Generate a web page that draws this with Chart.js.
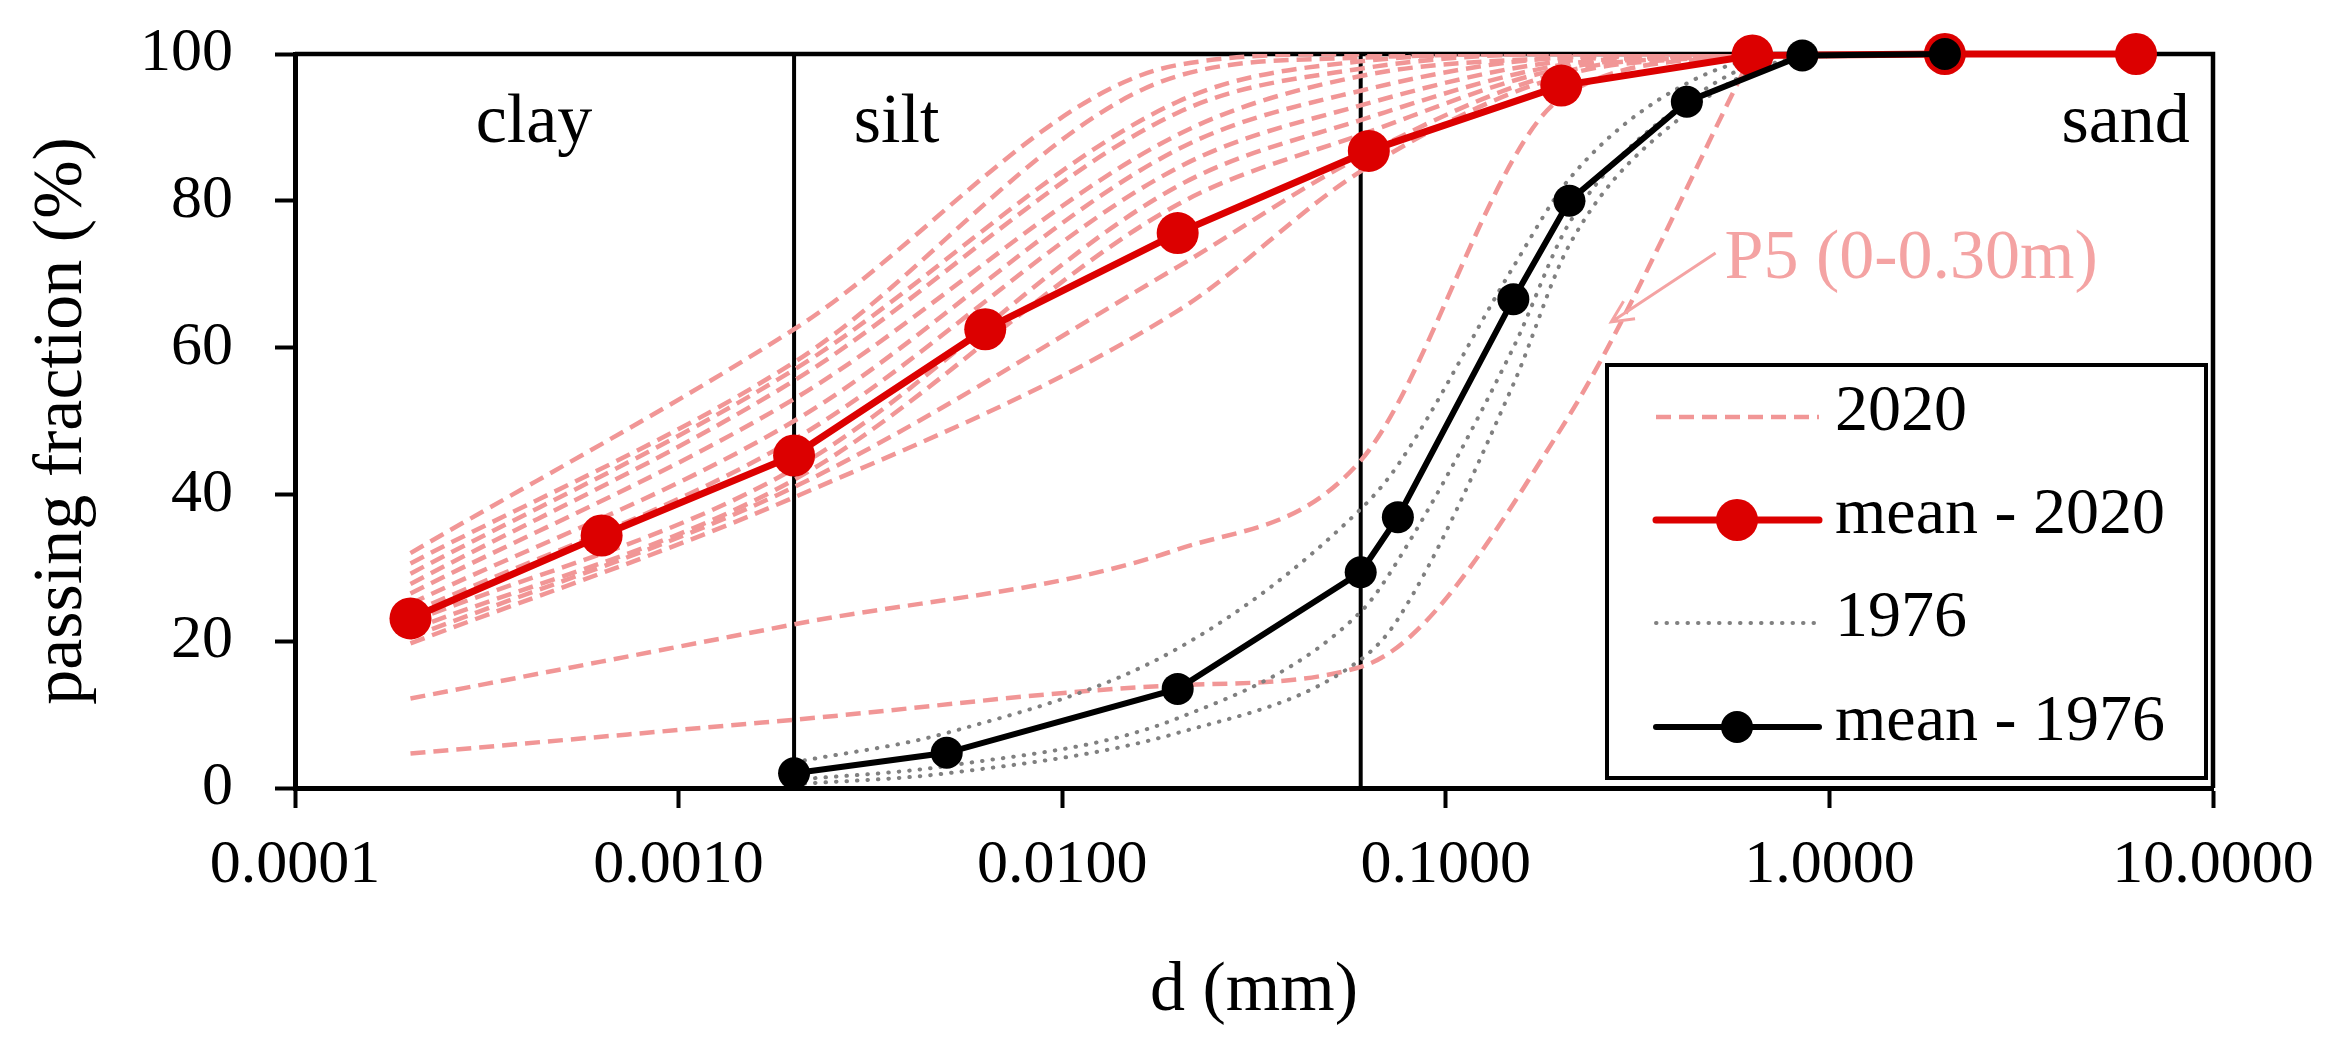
<!DOCTYPE html>
<html>
<head>
<meta charset="utf-8">
<script src="https://cdn.jsdelivr.net/npm/chart.js@4.4.1/dist/chart.umd.min.js"></script>
<style>
  html, body { margin: 0; padding: 0; background: #fff; }
  #wrap { width: 2335px; height: 1040px; }
</style>
</head>
<body>
<div id="wrap"><canvas id="psd" width="2335" height="1040"></canvas></div>
<script>
const SERIF = '"Liberation Serif", "Times New Roman", serif';

// grain size (mm) at which the 2020 samples were read
const sieve2020 = [0.0002, 0.002, 0.02, 0.06, 0.2, 0.63];
// passing fraction (%) of each 2020 sample, last one is P5 (0-0.30m)
const samples2020 = [
  [32.0, 62.5, 98.5, 100, 100, 100],
  [30.6, 58.0, 97.0, 99.5, 100, 100],
  [29.2, 57.0, 93.5, 99.0, 100, 100],
  [27.8, 55.5, 92.0, 98.0, 100, 100],
  [26.5, 53.0, 89.0, 97.0, 99.5, 100],
  [25.1, 50.0, 87.0, 95.0, 99.5, 100],
  [23.8, 47.5, 84.5, 93.0, 99.0, 100],
  [22.6, 43.5, 82.0, 91.0, 98.5, 100],
  [21.5, 42.0, 79.5, 89.0, 98.0, 100],
  [20.5, 41.0, 71.0, 86.0, 97.5, 100],
  [19.7, 39.6, 65.0, 84.0, 97.0, 100],
  [12.2, 22.3, 32.5, 44.6, 94.0, 100],
  [4.7, 9.3, 14.0, 16.5, 49.0, 100]
];
const mean2020X = [0.0002, 0.00063, 0.002, 0.0063, 0.02, 0.063, 0.2, 0.63, 2.0, 6.3];
const mean2020Y = [23.1, 34.4, 45.3, 62.5, 75.6, 86.8, 95.7, 99.8, 100, 100];

// 1976 survey
const sieve1976 = [0.002, 0.005, 0.02, 0.06, 0.075, 0.15, 0.21, 0.425, 0.85, 2.0];
const samples1976 = [
  [3.5, 7.5, 19.0, 38.0, 44.0, 71.0, 83.0, 96.0, 100, 100],
  [1.1, 3.0, 9.5, 24.0, 31.0, 60.0, 77.0, 93.5, 100, 100],
  [0.5, 2.0, 7.5, 17.5, 23.0, 55.0, 74.0, 92.0, 99.5, 100]
];
const mean1976Y = [2.0, 4.8, 13.5, 29.4, 36.9, 66.6, 80.0, 93.5, 99.8, 100];

const xTickValues = [0.0001, 0.001, 0.01, 0.1, 1, 10];
const xTickLabels = ['0.0001', '0.0010', '0.0100', '0.1000', '1.0000', '10.0000'];
const classLimits = [0.002, 0.06];
const legendLabels = ['2020', 'mean - 2020', '1976', 'mean - 1976'];

const PINK = '#F19696';
const RED = '#DC0000';
const GREY = '#808080';

const pts = (xs, ys) => xs.map((x, i) => ({ x: x, y: ys[i] }));

const datasets = [];
datasets.push({
  label: 'mean - 1976', data: pts(sieve1976, mean1976Y), order: 0,
  borderColor: '#000', backgroundColor: '#000', borderWidth: 6,
  pointRadius: 16, pointBorderWidth: 0, pointBackgroundColor: '#000',
  tension: 0, clip: false
});
datasets.push({
  label: 'mean - 2020', data: pts(mean2020X, mean2020Y), order: 1,
  borderColor: RED, backgroundColor: RED, borderWidth: 7,
  pointRadius: 21, pointBorderWidth: 0, pointBackgroundColor: RED,
  tension: 0, clip: false
});
samples1976.forEach(s => datasets.push({
  label: '1976', data: pts(sieve1976, s), order: 2,
  borderColor: GREY, borderWidth: 4, borderDash: [0.5, 10], borderCapStyle: 'round',
  pointRadius: 0, cubicInterpolationMode: 'monotone'
}));
samples2020.forEach(s => datasets.push({
  label: '2020', data: pts(sieve2020, s), order: 3,
  borderColor: PINK, borderWidth: 4.5, borderDash: [15, 8],
  pointRadius: 0, cubicInterpolationMode: 'monotone'
}));

const decor = {
  id: 'decor',
  beforeDatasetsDraw(chart) {
    const { ctx, chartArea: a, scales: { x } } = chart;
    ctx.save();
    ctx.strokeStyle = '#000';
    ctx.lineWidth = 4.5;
    ctx.beginPath();
    ctx.moveTo(a.left, a.top);
    ctx.lineTo(a.right, a.top);
    ctx.lineTo(a.right, a.bottom);
    ctx.stroke();
    ctx.lineWidth = 4;
    classLimits.forEach(d => {
      const px = x.getPixelForValue(d);
      ctx.beginPath();
      ctx.moveTo(px, a.top);
      ctx.lineTo(px, a.bottom);
      ctx.stroke();
    });
    ctx.restore();
  },
  afterDatasetsDraw(chart) {
    const { ctx, chartArea: a, scales: { x, y } } = chart;
    ctx.save();
    // soil classes
    ctx.fillStyle = '#000';
    ctx.font = '70px ' + SERIF;
    ctx.textBaseline = 'alphabetic';
    ctx.textAlign = 'center';
    ctx.fillText('clay', x.getPixelForValue(0.00042), y.getPixelForValue(88));
    ctx.fillText('silt', x.getPixelForValue(0.0037), y.getPixelForValue(88));
    ctx.textAlign = 'right';
    ctx.fillText('sand', x.getPixelForValue(8.7), y.getPixelForValue(88));

    // P5 note with arrow
    ctx.fillStyle = '#F4A3A3';
    ctx.strokeStyle = '#F4A3A3';
    ctx.textAlign = 'left';
    ctx.fillText('P5 (0-0.30m)', x.getPixelForValue(0.533), y.getPixelForValue(69.5));
    const x0 = x.getPixelForValue(0.505), y0 = y.getPixelForValue(72.9);
    const x1 = x.getPixelForValue(0.27), y1 = y.getPixelForValue(63.5);
    const ang = Math.atan2(y1 - y0, x1 - x0);
    ctx.lineWidth = 3;
    ctx.beginPath();
    ctx.moveTo(x0, y0);
    ctx.lineTo(x1, y1);
    ctx.moveTo(x1 - 24 * Math.cos(ang - 0.45), y1 - 24 * Math.sin(ang - 0.45));
    ctx.lineTo(x1, y1);
    ctx.lineTo(x1 - 24 * Math.cos(ang + 0.45), y1 - 24 * Math.sin(ang + 0.45));
    ctx.stroke();

    // legend box
    const bx = a.right - 606, by = a.bottom - 423, bw = 599, bh = 413;
    ctx.fillStyle = '#fff';
    ctx.fillRect(bx, by, bw, bh);
    ctx.strokeStyle = '#000';
    ctx.lineWidth = 4;
    ctx.strokeRect(bx, by, bw, bh);
    const rows = [52, 155, 258, 362];
    ctx.font = '66px ' + SERIF;
    ctx.textBaseline = 'middle';
    ctx.textAlign = 'left';
    legendLabels.forEach((lab, i) => {
      const ds = chart.data.datasets.find(d => d.label === lab);
      const ly = by + rows[i];
      ctx.save();
      ctx.strokeStyle = ds.borderColor;
      ctx.lineWidth = ds.borderWidth;
      ctx.lineCap = ds.borderCapStyle || (ds.pointRadius ? 'round' : 'butt');
      ctx.setLineDash(ds.borderDash || []);
      ctx.beginPath();
      ctx.moveTo(bx + 49, ly);
      ctx.lineTo(bx + 212, ly);
      ctx.stroke();
      if (ds.pointRadius) {
        ctx.fillStyle = ds.pointBackgroundColor;
        ctx.beginPath();
        ctx.arc(bx + 130, ly, ds.pointRadius, 0, Math.PI * 2);
        ctx.fill();
      }
      ctx.restore();
      ctx.fillStyle = '#000';
      ctx.fillText(lab, bx + 228, ly - 4);
    });
    ctx.restore();
  }
};

const tickFont = { family: SERIF, size: 62 };
const titleFont = { family: SERIF, size: 70, lineHeight: 1 };

new Chart(document.getElementById('psd'), {
  type: 'line',
  data: { datasets: datasets },
  options: {
    responsive: false,
    devicePixelRatio: 1,
    animation: false,
    events: [],
    layout: { padding: { left: 0, right: 122, top: 54, bottom: 0 } },
    plugins: { legend: { display: false }, tooltip: { enabled: false } },
    scales: {
      x: {
        type: 'logarithmic',
        min: 0.0001,
        max: 10,
        afterBuildTicks: s => { s.ticks = xTickValues.map(v => ({ value: v })); },
        afterFit: s => { s.height = 252; s.paddingLeft = 0; s.paddingRight = 0; },
        ticks: {
          autoSkip: false, maxRotation: 0, padding: 21, color: '#000', font: tickFont,
          callback: v => {
            const i = xTickValues.findIndex(t => Math.abs(Math.log10(t) - Math.log10(v)) < 1e-6);
            return i >= 0 ? xTickLabels[i] : '';
          }
        },
        grid: { drawOnChartArea: false, drawTicks: true, tickLength: 20, tickWidth: 4, tickColor: '#000' },
        border: { display: true, color: '#000', width: 5 },
        title: { display: true, text: 'd (mm)', color: '#000', font: titleFont, padding: { top: 0, bottom: 13 } }
      },
      y: {
        min: 0,
        max: 100,
        afterFit: s => { s.width = 295; s.paddingTop = 0; s.paddingBottom = 0; },
        ticks: { stepSize: 20, padding: 42, color: '#000', font: tickFont },
        grid: { drawOnChartArea: false, drawTicks: true, tickLength: 20, tickWidth: 4, tickColor: '#000' },
        border: { display: true, color: '#000', width: 5 },
        title: { display: true, text: 'passing fraction (%)', color: '#000', font: titleFont, padding: { top: 28, bottom: 0 } }
      }
    }
  },
  plugins: [decor]
});
</script>
</body>
</html>
